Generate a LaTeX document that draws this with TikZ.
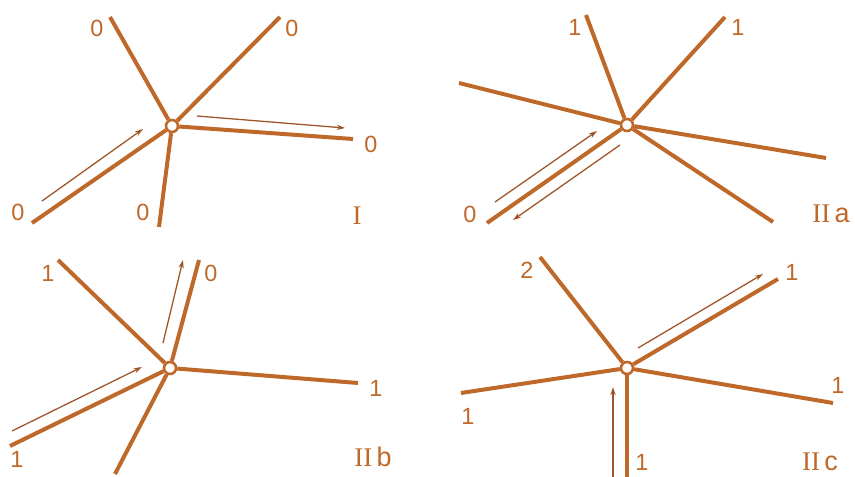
\documentclass[tikz,border=0pt]{standalone}
\usepackage{tikz}
\usetikzlibrary{arrows.meta}
\usepackage{xcolor}
\usepackage{fontspec}
\setsansfont{Liberation Sans}
\setmainfont{Liberation Serif}
\definecolor{bondcol}{RGB}{190,104,42}
\definecolor{flowcol}{RGB}{160,85,40}

\begin{document}
\begin{tikzpicture}[
  x=0.03cm, y=-0.03cm,
  every node/.style={font=\sffamily\fontsize{20}{22}\selectfont, text=bondcol},
  vtx/.style={circle, draw=bondcol, line width=2.2pt, fill=white,
              minimum size=0.36cm, inner sep=0pt},
  bond/.style={draw=bondcol, line width=3.4pt},
  flow/.style={draw=flowcol, line width=1.1pt, -{Stealth[length=7pt, width=4.5pt]}},
  panel/.style={font=\rmfamily\fontsize{23}{25}\selectfont},
  >=Stealth
]
\useasboundingbox (0,0) rectangle (855,477);

% ---- I
\node[vtx] (cI) at (172,126) {};
\coordinate (iul) at (110,17);
\coordinate (iur) at (280,17);
\coordinate (ir) at (353,139);
\coordinate (ill) at (32,223);
\coordinate (ilo) at (159,227);
\foreach \e in {iul,iur,ir,ill,ilo} \draw[bond] (cI) -- (\e);
\node (liul) at (97,28) {0};
\node (liur) at (292,28) {0};
\node (lir) at (371,144) {0};
\node (lill) at (18,212) {0};
\node (lilo) at (143,212) {0};
\node[panel] (pI) at (357,216) {I};
\coordinate (fIa) at (42,201);
\coordinate (fIb) at (143,129);
\coordinate (fIc) at (197,116);
\coordinate (fId) at (345,128);
\draw[flow] (fIa) -- (fIb);
\draw[flow] (fIc) -- (fId);

% ---- II a
\node[vtx] (cIIa) at (627,125) {};
\coordinate (aul) at (586,15);
\coordinate (aur) at (725,17);
\coordinate (al) at (459,83);
\coordinate (ar) at (826,158);
\coordinate (alr) at (773,222);
\coordinate (all) at (487,223);
\foreach \e in {aul,aur,al,ar,alr,all} \draw[bond] (cIIa) -- (\e);
\node (laul) at (575,27) {1};
\node (laur) at (738,27) {1};
\node (lall) at (470,214) {0};
\node[panel] (pIIa) at (831,214) {II\,\textsf{a}};
\coordinate (fAa) at (495,202);
\coordinate (fAb) at (597,131);
\coordinate (fAc) at (620,145);
\coordinate (fAd) at (513,220);
\draw[flow] (fAa) -- (fAb);
\draw[flow] (fAc) -- (fAd);

% ---- II b
\node[vtx] (cIIb) at (170,368) {};
\coordinate (bul) at (58,260);
\coordinate (bu) at (199,260);
\coordinate (br) at (358,383);
\coordinate (bll) at (10,446);
\coordinate (blo) at (115,474);
\foreach \e in {bul,bu,br,bll,blo} \draw[bond] (cIIb) -- (\e);
\node (lbul) at (48,273) {1};
\node (lbu) at (211,273) {0};
\node (lbr) at (376,388) {1};
\node (lbll) at (17,459) {1};
\node[panel] (pIIb) at (373,457) {II\,\textsf{b}};
\coordinate (fBa) at (163,343);
\coordinate (fBb) at (183,260);
\coordinate (fBc) at (12,431);
\coordinate (fBd) at (142,367);
\draw[flow] (fBa) -- (fBb);
\draw[flow] (fBc) -- (fBd);

% ---- II c
\node[vtx] (cIIc) at (627,368) {};
\coordinate (cul) at (540,257);
\coordinate (cur) at (778,279);
\coordinate (cr) at (833,403);
\coordinate (cl) at (461,393);
\coordinate (clo) at (627,477);
\foreach \e in {cul,cur,cr,cl,clo} \draw[bond] (cIIc) -- (\e);
\node (lcul) at (527,270) {2};
\node (lcur) at (792,272) {1};
\node (lcr) at (838,385) {1};
\node (lcl) at (468,416) {1};
\node (lclo) at (642,462) {1};
\node[panel] (pIIc) at (820,462) {II\,\textsf{c}};
\coordinate (fCa) at (638,348);
\coordinate (fCb) at (763,274);
\coordinate (fCc) at (613,477);
\coordinate (fCd) at (613,387);
\draw[flow] (fCa) -- (fCb);
\draw[flow] (fCc) -- (fCd);

\end{tikzpicture}
\end{document}
